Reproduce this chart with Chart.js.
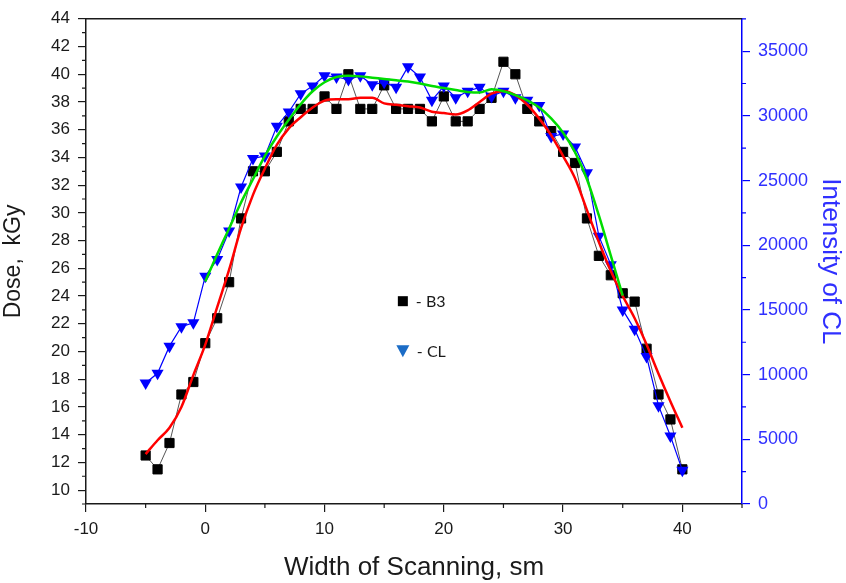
<!DOCTYPE html>
<html>
<head>
<meta charset="utf-8">
<title>Dose and CL intensity across the scan</title>
<script src="https://cdn.jsdelivr.net/npm/chart.js"></script>
<style>
  body { margin: 0; background: #fff; }
  #wrap { width: 846px; height: 583px; }
</style>
</head>
<body>
<div id="wrap"><canvas id="chDose" width="846" height="583"></canvas></div>
<script>
// scan positions, sm
var widthX = [-5,-4,-3,-2,-1,0,1,2,3,4,5,6,7,8,9,10,11,12,13,14,15,16,17,18,19,20,
              21,22,23,24,25,26,27,28,29,30,31,32,33,34,35,36,37,38,39,40];

// B3 dose, kGy
var doseB3 = [12.5,11.5,13.4,16.9,17.8,20.6,22.4,25.0,29.6,33.0,
              33.0,34.4,36.6,37.5,37.5,38.4,37.5,40.0,37.5,37.5,
              39.2,37.5,37.5,37.5,36.6,38.4,36.6,36.6,37.5,38.3,
              40.9,40.0,37.5,36.6,35.9,34.4,33.6,29.6,26.9,25.5,
              24.2,23.6,20.2,16.9,15.1,11.5];

// CL intensity
var intensityCL = [9350,10100,12200,13700,14000,17600,18900,21100,24500,26700,
                   26900,29200,30300,31700,32300,33100,33000,32800,33100,32400,
                   32600,32200,33800,33000,31200,32300,31400,31900,32200,31500,
                   31900,31400,31200,30800,28400,28600,27600,25600,20700,18500,
                   15000,13500,11400,7600,5250,2600];

// smoothed dose (red)
var doseSmooth = [12.6,13.6,14.5,16.0,18.3,20.5,23.2,25.9,28.9,31.3,
                  33.2,34.9,36.1,36.9,37.6,38.1,38.2,38.2,38.3,38.3,
                  37.9,37.8,37.7,37.6,37.3,37.2,37.1,37.4,38.0,38.6,
                  38.8,38.5,37.8,36.8,35.6,34.1,32.5,30.2,27.9,25.8,
                  24.0,22.4,20.5,18.4,16.4,14.5];

// smoothed CL (green), x = 0..35
var smoothX = [0,1,2,3,4,5,6,7,8,9,10,11,12,13,14,15,16,17,18,19,20,
               21,22,23,24,25,26,27,28,29,30,31,32,33,34,35];
var intensitySmooth = [17200,19300,21300,23300,25100,26900,28400,29700,30900,31900,
                       32600,33000,33100,33050,32950,32850,32750,32650,32500,32300,
                       32150,32000,31850,31800,32050,31900,31600,31200,30650,29800,
                       28700,27200,25100,22300,19200,16100];

// tick labels
var xTicks = [-10,0,10,20,30,40];
var doseTicks = [10,12,14,16,18,20,22,24,26,28,30,32,34,36,38,40,42,44];
var clTicks = [0,5000,10000,15000,20000,25000,30000,35000];

var fontFam = '"Liberation Sans", Arial, sans-serif';
var ink = '#1a1a1a';
var blue = '#0000ff';
var blueText = '#3030ff';

function pts(xs, ys) {
  return xs.map(function (x, i) { return {x: x, y: ys[i]}; });
}

// minor ticks, top frame line and the in-plot legend
var frameExtras = {
  id: 'frameExtras',
  afterDraw: function (chart) {
    var ctx = chart.ctx, a = chart.chartArea;
    var sx = chart.scales.x, sl = chart.scales.yDose, sr = chart.scales.yCL;
    var v, p;
    ctx.save();
    ctx.lineWidth = 1.2;

    ctx.strokeStyle = ink;
    ctx.beginPath();
    for (v = -5; v <= 45; v += 10) {
      p = sx.getPixelForValue(v);
      ctx.moveTo(p, a.bottom); ctx.lineTo(p, a.bottom + 4);
    }
    for (v = 9; v <= 43; v += 2) {
      p = sl.getPixelForValue(v);
      ctx.moveTo(a.left, p); ctx.lineTo(a.left - 4, p);
    }
    ctx.stroke();

    ctx.strokeStyle = blue;
    ctx.beginPath();
    for (v = 2500; v <= 37500; v += 5000) {
      p = sr.getPixelForValue(v);
      ctx.moveTo(a.right, p); ctx.lineTo(a.right + 4, p);
    }
    ctx.stroke();

    // top frame
    ctx.strokeStyle = ink;
    ctx.lineWidth = 1.5;
    ctx.beginPath();
    ctx.moveTo(a.left, a.top); ctx.lineTo(a.right, a.top);
    ctx.stroke();

    // legend
    var lx = a.left + 0.483 * (a.right - a.left);
    var ly1 = a.top + 0.582 * (a.bottom - a.top);
    var ly2 = a.top + 0.684 * (a.bottom - a.top);
    ctx.fillStyle = '#000';
    ctx.fillRect(lx - 5, ly1 - 5, 10, 10);
    ctx.fillStyle = '#1b6cc6';
    ctx.beginPath();
    ctx.moveTo(lx - 6.5, ly2 - 5.5);
    ctx.lineTo(lx + 6.5, ly2 - 5.5);
    ctx.lineTo(lx, ly2 + 6.5);
    ctx.closePath();
    ctx.fill();
    ctx.fillStyle = ink;
    ctx.font = '16px Lato, "Open Sans", sans-serif';
    ctx.textBaseline = 'middle';
    ctx.textAlign = 'left';
    ctx.fillText('- B3', lx + 13, ly1 + 1);
    ctx.fillText('- CL', lx + 14, ly2 + 1);
    ctx.restore();
  }
};

var ctx = document.getElementById('chDose');

new Chart(ctx, {
  type: 'line',
  data: {
    datasets: [
      {
        label: 'CL smooth',
        data: pts(smoothX, intensitySmooth),
        yAxisID: 'yCL',
        borderColor: '#00dd00',
        borderWidth: 2.5,
        pointRadius: 0,
        cubicInterpolationMode: 'monotone',
        order: 1
      },
      {
        label: 'B3 smooth',
        data: pts(widthX, doseSmooth),
        yAxisID: 'yDose',
        borderColor: '#ff0000',
        borderWidth: 2.5,
        pointRadius: 0,
        cubicInterpolationMode: 'monotone',
        order: 2
      },
      {
        label: 'CL',
        data: pts(widthX, intensityCL),
        yAxisID: 'yCL',
        borderColor: blue,
        borderWidth: 1.2,
        pointStyle: 'triangle',
        pointRotation: 180,
        pointRadius: 7,
        pointBackgroundColor: blue,
        pointBorderColor: blue,
        pointBorderWidth: 0,
        order: 3
      },
      {
        label: 'B3',
        data: pts(widthX, doseB3),
        yAxisID: 'yDose',
        borderColor: '#555',
        borderWidth: 1,
        pointStyle: 'rect',
        pointRadius: 6.5,
        pointBackgroundColor: '#000',
        pointBorderColor: '#000',
        pointBorderWidth: 1,
        order: 4
      }
    ]
  },
  options: {
    responsive: false,
    animation: false,
    devicePixelRatio: 1,
    layout: {padding: {top: 16, left: 0, right: 0, bottom: 0}},
    plugins: {legend: {display: false}, tooltip: {enabled: false}},
    scales: {
      x: {
        type: 'linear',
        position: 'bottom',
        min: -10, max: 45,
        afterBuildTicks: function (s) { s.ticks = xTicks.map(function (v) { return {value: v}; }); },
        afterFit: function (s) { s.height = 79; },
        grid: {drawOnChartArea: false, tickLength: 8, color: ink, lineWidth: 1.2},
        border: {color: ink, width: 1.5},
        ticks: {color: ink, font: {family: fontFam, size: 17}, padding: 7, maxRotation: 0},
        title: {display: true, text: 'Width of Scanning, sm', color: ink,
                font: {family: fontFam, size: 26}, padding: {top: 0, bottom: 0}}
      },
      yDose: {
        type: 'linear',
        position: 'left',
        min: 9, max: 44,
        afterBuildTicks: function (s) { s.ticks = doseTicks.map(function (v) { return {value: v}; }); },
        afterFit: function (s) { s.width = 86; },
        grid: {drawOnChartArea: false, tickLength: 8, color: ink, lineWidth: 1.2},
        border: {color: ink, width: 1.5},
        ticks: {color: ink, font: {family: fontFam, size: 17}, padding: 8},
        title: {display: true, text: 'Dose,  kGy', color: ink,
                font: {family: fontFam, size: 23}, padding: {top: 0, bottom: 0}}
      },
      yCL: {
        type: 'linear',
        position: 'right',
        min: 0, max: 37500,
        afterBuildTicks: function (s) { s.ticks = clTicks.map(function (v) { return {value: v}; }); },
        afterFit: function (s) { s.width = 104; },
        grid: {drawOnChartArea: false, tickLength: 8, color: blue, lineWidth: 1.2},
        border: {color: blue, width: 1.5},
        ticks: {color: blueText, font: {family: fontFam, size: 18}, padding: 8,
                callback: function (v) { return String(v); }},
        title: {display: true, text: 'Intensity of CL', color: blueText,
                font: {family: fontFam, size: 26}, padding: {top: 0, bottom: 0}}
      }
    }
  },
  plugins: [frameExtras]
});
</script>
</body>
</html>
